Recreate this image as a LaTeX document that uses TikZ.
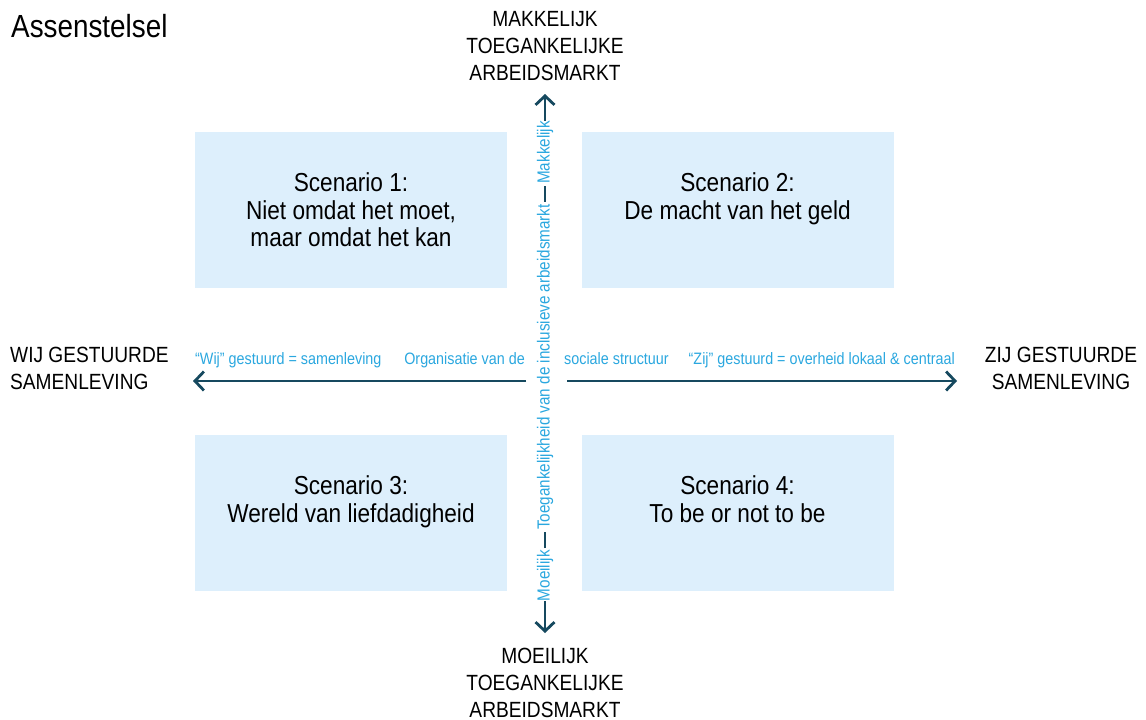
\documentclass[tikz,border=0pt]{standalone}
\usepackage{fontspec}
\setmainfont[FakeStretch=0.87]{Liberation Sans}
\usetikzlibrary{arrows.meta}
\definecolor{axisline}{HTML}{16495F}
\definecolor{axistext}{HTML}{2AA7DF}
\definecolor{quadfill}{HTML}{DDEFFC}

\begin{document}
\begin{tikzpicture}[x=1pt,y=-1pt,
  axis/.style={draw=axisline, line width=2.8pt},
  tip/.style={-{Straight Barb[length=9pt,width=19pt]}},
  quad/.style={fill=quadfill, draw=none, inner sep=0pt, minimum width=312pt, minimum height=156pt},
  scen/.style={font=\fontsize{26}{27.5}\selectfont, align=center, anchor=north, inner sep=0pt},
  pole/.style={font=\fontsize{22}{27}\selectfont, align=center, inner sep=0pt},
  hlabel/.style={text=axistext, font=\fontsize{16.5}{18}\selectfont, inner sep=0pt},
  vlabel/.style={text=axistext, font=\fontsize{17.5}{19}\selectfont, rotate=90, inner xsep=2pt, inner ysep=0pt},
]
\useasboundingbox (0,0) rectangle (1146,720);

% title
\node[anchor=base west, inner sep=0pt, font=\fontsize{32}{36}\selectfont] (title) at (11,37) {Assenstelsel};

% quadrants
\node[quad] (q1) at (351,210) {};
\node[quad] (q2) at (737.5,210) {};
\node[quad] (q3) at (351,513) {};
\node[quad] (q4) at (737.5,513) {};
\node[scen] (s1) at ([yshift=-41pt]q1.north) {Scenario 1:\\Niet omdat het moet,\\maar omdat het kan};
\node[scen] (s2) at ([yshift=-41pt]q2.north) {Scenario 2:\\De macht van het geld};
\node[scen] (s3) at ([yshift=-41pt]q3.north) {Scenario 3:\\Wereld van liefdadigheid};
\node[scen] (s4) at ([yshift=-41pt]q4.north) {Scenario 4:\\To be or not to be};

% pole labels
\node[pole, anchor=north] (top) at (545,11) {MAKKELIJK\\TOEGANKELIJKE\\ARBEIDSMARKT};
\node[pole, anchor=north] (bot) at (545,648) {MOEILIJK\\TOEGANKELIJKE\\ARBEIDSMARKT};
\node[pole, anchor=north west, align=left] (wij) at (10,347) {WIJ GESTUURDE\\SAMENLEVING};
\node[pole, anchor=north] (zij) at (1061,347) {ZIJ GESTUURDE\\SAMENLEVING};

% horizontal axis
\coordinate (wtip) at (193,381);
\coordinate (etip) at (957,381);
\coordinate (wgap) at (526,381);
\coordinate (egap) at (567,381);
\draw[axis, tip] (wgap) -- (wtip);
\draw[axis, tip] (egap) -- (etip);
\node[hlabel, anchor=base west] (hw) at (195,364) {“Wij” gestuurd = samenleving};
\node[hlabel, anchor=base east] (hcl) at (525,364) {Organisatie van de};
\node[hlabel, anchor=base west] (hcr) at (564,364) {sociale structuur};
\node[hlabel, anchor=base east] (he) at (955,364) {“Zij” gestuurd = overheid lokaal \& centraal};

% vertical axis
\node[vlabel] (vmid) at (545,367) {Toegankelijkheid van de inclusieve arbeidsmarkt};
\node[vlabel, anchor=east] (vlow) at ([yshift=-16pt]vmid.west) {Moeilijk};
\node[vlabel, anchor=west] (vhigh) at ([yshift=16pt]vmid.east) {Makkelijk};
\coordinate (ntip) at (545,94);
\coordinate (stip) at (545,633);
\draw[axis] (vlow.east) -- (vmid.west);
\draw[axis] (vmid.east) -- (vhigh.west);
\draw[axis, tip] ([yshift=-2pt]vhigh.east) -- (ntip);
\draw[axis, tip] ([yshift=2pt]vlow.west) -- (stip);
\end{tikzpicture}
\end{document}
